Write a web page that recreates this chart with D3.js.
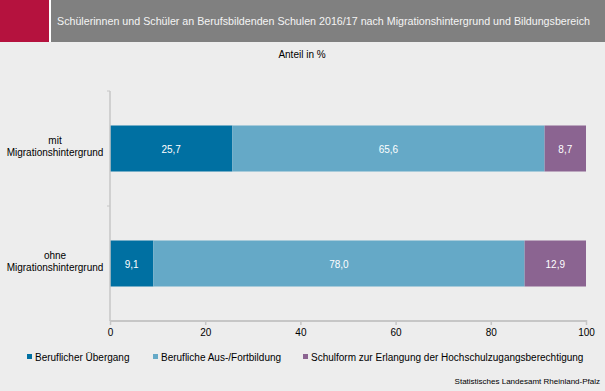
<!DOCTYPE html>
<html><head><meta charset="utf-8">
<script src="https://cdn.jsdelivr.net/npm/d3@7"></script>
<style>body{margin:0;background:#ededed;}svg{display:block;font-family:"Liberation Sans",Arial,sans-serif;}</style>
</head><body>
<script>
const categories = ["mit Migrationshintergrund", "ohne Migrationshintergrund"];
const categoryLines = [["mit","Migrationshintergrund"],["ohne","Migrationshintergrund"]];
const seriesNames = ["Beruflicher Übergang", "Berufliche Aus-/Fortbildung", "Schulform zur Erlangung der Hochschulzugangsberechtigung"];
const uebergang = [25.7, 9.1];
const ausbildung = [65.6, 78.0];
const hochschul = [8.7, 12.9];
const ticks = [0, 20, 40, 60, 80, 100];
const colors = ["#0070a2", "#65a9c7", "#8b6491"];

const W = 605, H = 391;
const svg = d3.select("body").append("svg").attr("width", W).attr("height", H);
svg.append("rect").attr("width", W).attr("height", H).attr("fill", "#ededed");

// header
svg.append("rect").attr("x", 0).attr("y", 0).attr("width", W).attr("height", 42).attr("fill", "#808080");
svg.append("rect").attr("x", 0).attr("y", 0).attr("width", 49).attr("height", 42).attr("fill", "#b5123e");
svg.append("rect").attr("x", 49).attr("y", 0).attr("width", 2).attr("height", 42).attr("fill", "#ffffff");
svg.append("text").attr("x", 57).attr("y", 25).attr("fill", "#f4f4f4").attr("font-size", 10.7)
  .text("Schülerinnen und Schüler an Berufsbildenden Schulen 2016/17 nach Migrationshintergrund und Bildungsbereich");

svg.append("text").attr("x", 302).attr("y", 58).attr("text-anchor", "middle").attr("font-size", 10).attr("fill", "#000")
  .text("Anteil in %");

const x = d3.scaleLinear().domain([0, 100]).range([110, 586]);
const y = d3.scaleBand().domain(categories).range([91, 321]).paddingInner(0.6).paddingOuter(0.3);

const data = categories.map((c, i) => ({cat: c, values: [uebergang[i], ausbildung[i], hochschul[i]]}));
const stacked = d3.stack().keys([0,1,2]).value((d, k) => d.values[k])(data);

// bars
stacked.forEach((layer, k) => {
  const g = svg.append("g");
  g.selectAll("rect").data(layer).join("rect")
    .attr("x", d => x(d[0])).attr("width", d => x(d[1]) - x(d[0]))
    .attr("y", d => y(d.data.cat)).attr("height", y.bandwidth())
    .attr("fill", colors[k]);
  g.selectAll("text").data(layer).join("text")
    .attr("x", d => (x(d[0]) + x(d[1])) / 2)
    .attr("y", d => y(d.data.cat) + y.bandwidth() / 2 + 4)
    .attr("text-anchor", "middle").attr("font-size", 10).attr("fill", "#ffffff")
    .text(d => d3.format(".1f")(d[1] - d[0]).replace(".", ","));
});

// axes
const axisColor = "#c6c6c6";
svg.append("line").attr("x1", 110).attr("x2", 110).attr("y1", 91).attr("y2", 321).attr("stroke", axisColor).attr("stroke-width", 1.5);
svg.append("line").attr("x1", 107).attr("x2", 110).attr("y1", 91).attr("y2", 91).attr("stroke", axisColor);
svg.append("line").attr("x1", 107).attr("x2", 110).attr("y1", 206).attr("y2", 206).attr("stroke", axisColor);
svg.append("line").attr("x1", 110).attr("x2", 587).attr("y1", 321).attr("y2", 321).attr("stroke", axisColor).attr("stroke-width", 2);
const xa = svg.append("g").attr("transform", "translate(0,321)")
  .call(d3.axisBottom(x).tickValues(ticks).tickSize(4).tickPadding(4).tickFormat(d3.format("d")));
xa.select(".domain").remove();
xa.selectAll("line").attr("stroke", axisColor).attr("stroke-width", 1.5).attr("y1", -1).attr("y2", 4);
xa.selectAll("text").attr("font-size", 10).attr("fill", "#000").attr("font-family", "Liberation Sans, Arial, sans-serif");

// category labels
categories.forEach((c, i) => {
  const cy = y(c) + y.bandwidth() / 2;
  const t = svg.append("text").attr("text-anchor", "middle").attr("font-size", 10).attr("fill", "#000");
  t.append("tspan").attr("x", 55).attr("y", cy - 5).text(categoryLines[i][0]);
  t.append("tspan").attr("x", 55).attr("y", cy + 7).text(categoryLines[i][1]);
});

// legend
const legX = [27, 153, 303];
seriesNames.forEach((n, k) => {
  svg.append("rect").attr("x", legX[k]).attr("y", 354).attr("width", 5).attr("height", 5).attr("fill", colors[k]);
  svg.append("text").attr("x", legX[k] + 8).attr("y", 361).attr("font-size", 10).attr("fill", "#000").text(n);
});

svg.append("text").attr("x", 600).attr("y", 384).attr("text-anchor", "end").attr("font-size", 8).attr("fill", "#000")
  .text("Statistisches Landesamt Rheinland-Pfalz");
</script>
</body></html>
